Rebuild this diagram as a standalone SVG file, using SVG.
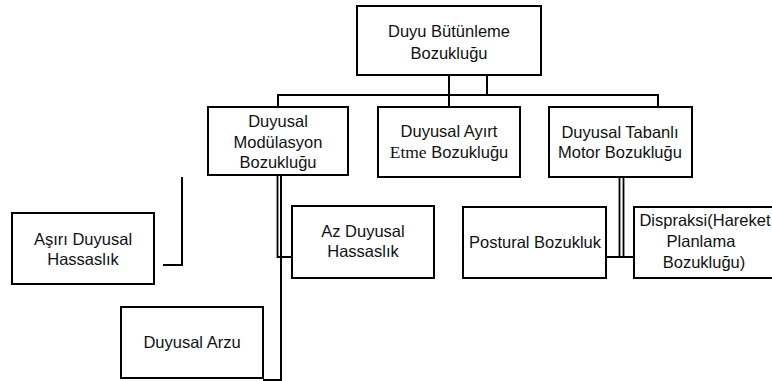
<svg xmlns="http://www.w3.org/2000/svg" width="772" height="381" viewBox="0 0 772 381">
<style>
.box{fill:#fff;stroke:#000;stroke-width:2}
.ln{fill:none;stroke:#000;stroke-width:2}
.thin{fill:none;stroke:#000;stroke-width:1.8}
text{font-family:"Liberation Sans",Arial,sans-serif;font-size:16.5px;fill:#111;text-anchor:middle}
.serif{font-family:"Liberation Serif","Times New Roman",serif;font-size:17.5px}
</style>
<rect width="772" height="381" fill="#fff"/>
<g id="connectors">
<polyline class="ln" points="449,75 449,107"/>
<polyline class="ln" points="487,75 487,95"/>
<polyline class="ln" points="278,107 278,95 658,95 658,107"/>
<polyline class="thin" points="277.5,176 277.5,257 292,257"/>
<polyline class="ln" points="281,176 281,380 263,380"/>
<polyline class="ln" points="182,177 182,265 163,265"/>
<polyline class="thin" points="619.5,177 619.5,257"/>
<polyline class="thin" points="623.5,177 623.5,257"/>
<polyline class="ln" points="606,257 634,257"/>
</g>
<g id="n-root"><rect class="box" x="357" y="6" width="184" height="69"/><text x="449" y="37">Duyu Bütünleme</text><text x="449" y="59">Bozukluğu</text></g>
<g id="n-modulasyon"><rect class="box" x="208" y="107" width="140" height="68"/><text x="278" y="127">Duyusal</text><text x="278" y="148">Modülasyon</text><text x="278" y="168">Bozukluğu</text></g>
<g id="n-ayirt"><rect class="box" x="378" y="107" width="142" height="70"/><text x="449" y="137">Duyusal Ayırt</text><text x="449" y="158"><tspan class="serif">Etme</tspan> Bozukluğu</text></g>
<g id="n-tabanli"><rect class="box" x="549" y="107" width="143" height="70"/><text x="620" y="138">Duyusal Tabanlı</text><text x="620" y="158">Motor Bozukluğu</text></g>
<g id="n-asiri"><rect class="box" x="12" y="213" width="142" height="71"/><text x="83" y="245">Aşırı Duyusal</text><text x="83" y="265">Hassaslık</text></g>
<g id="n-az"><rect class="box" x="292" y="206" width="142" height="72"/><text x="363" y="237">Az Duyusal</text><text x="363" y="257">Hassaslık</text></g>
<g id="n-arzu"><rect class="box" x="121" y="307" width="142" height="71"/><text x="192" y="348">Duyusal Arzu</text></g>
<g id="n-postural"><rect class="box" x="463" y="207" width="143" height="71"/><text x="535" y="248">Postural Bozukluk</text></g>
<g id="n-dispraksi"><rect class="box" x="634" y="207" width="142" height="71"/><text x="705" y="226">Dispraksi(Hareket</text><text x="701" y="247">Planlama</text><text x="704" y="268">Bozukluğu)</text></g>
</svg>
